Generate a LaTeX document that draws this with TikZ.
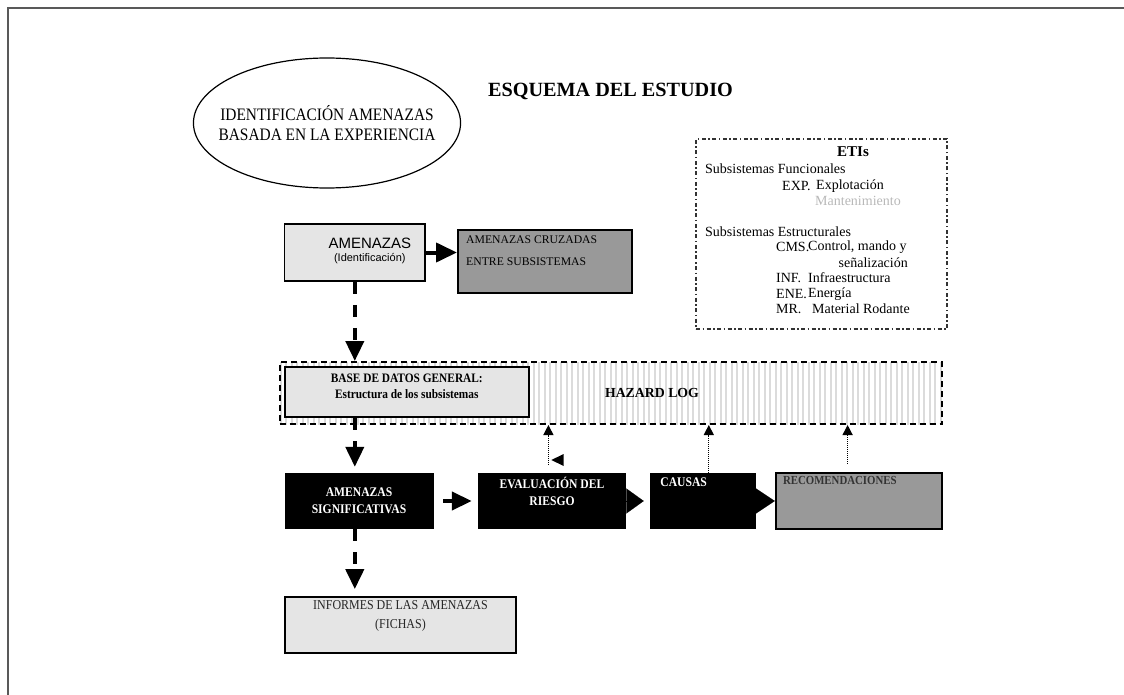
\documentclass[tikz,border=0pt]{standalone}
\usepackage{fontspec}
\setmainfont{Liberation Serif}
\newfontfamily\condfont{Liberation Serif}[FakeStretch=0.88]
\newfontfamily\armfont{Liberation Sans}
\usetikzlibrary{arrows.meta,patterns.meta,shapes.geometric}

\begin{document}
\begin{tikzpicture}[x=1pt,y=-1pt,
    caja/.style={draw,line width=1.8pt,fill=black!10},
    cajaosc/.style={draw,line width=2pt,fill=black!40},
    cajanegra/.style={fill=black,text=white},
    flecha/.style={line width=4pt,-{Triangle[length=20pt,width=18pt]}},
    discont/.style={dash pattern=on 12pt off 11pt},
    punteada/.style={line width=1.2pt,dash pattern=on 1pt off 1pt,-{Triangle[length=10pt,width=10pt]}},
    etitxt/.style={anchor=west,inner sep=0pt,font=\fontsize{14}{15}\selectfont},
    negtxt/.style={font=\condfont\bfseries\fontsize{13.2}{17}\selectfont}]
  \useasboundingbox (0,0) rectangle (1124,695);
  \draw[line width=2pt,black!65] (8,700) -- (8,8) -- (1130,8);

  % cabecera
  \node[draw,ellipse,line width=1.2pt,minimum width=263pt,minimum height=130pt,inner xsep=-14pt,align=center,
        font=\condfont\fontsize{17.5}{20}\selectfont] (ident) at (327,123)
        {IDENTIFICACIÓN AMENAZAS\\BASADA EN LA EXPERIENCIA};
  \node[font=\bfseries\fontsize{20.2}{24}\selectfont] (titulo) at (610.5,91) {ESQUEMA DEL ESTUDIO};

  % amenazas
  \node[caja,minimum width=140.5pt,minimum height=57pt,
        label={[align=center,inner sep=0pt,xshift=15pt,yshift=2pt]center:{\armfont\fontsize{15}{15}\selectfont AMENAZAS\\[1pt]\armfont\fontsize{11}{11}\selectfont (Identificación)}}] (amen) at (354.8,252.5) {};
  \node[cajaosc,minimum width=174pt,minimum height=63pt,
        label={[anchor=north west,align=left,inner sep=0pt,xshift=9pt,yshift=-7pt,font=\fontsize{11.7}{22}\selectfont]north west:{AMENAZAS CRUZADAS\\ENTRE SUBSISTEMAS}}] (cruz) at (545,261.5) {};
  \draw[line width=4pt,-{Triangle[length=21pt,width=19pt]}] (amen.east) -- (amen.east -| cruz.west);

  % ETIs
  \node[draw,black!80,line width=1.4pt,dash pattern=on 4pt off 2.5pt on 1.5pt off 2.5pt,
        minimum width=251pt,minimum height=190pt] (etis) at (821.5,234) {};
  \node[font=\bfseries\fontsize{15}{16}\selectfont] (etitit) at (853,152) {ETIs};
  \node[etitxt] (func) at (705,169) {Subsistemas Funcionales};
  \node[etitxt] (exp) at (782,186) {EXP.};
  \node[etitxt] (expl) at (816,186) {Explotación};
  \node[etitxt,text=black!28] (mant) at (815,201) {Mantenimiento};
  \node[etitxt] (estr) at (705,232) {Subsistemas Estructurales};
  \node[etitxt] (cms) at (776,247) {CMS.};
  \node[etitxt] (ctrl) at (808,247) {Control, mando y};
  \node[etitxt,anchor=east] (senal) at (908,263) {señalización};
  \node[etitxt] (inf) at (776,278) {INF.};
  \node[etitxt] (infr) at (808,278) {Infraestructura};
  \node[etitxt] (ene) at (776,294) {ENE.};
  \node[etitxt] (ener) at (808,294) {Energía};
  \node[etitxt] (mr) at (776,309) {MR.};
  \node[etitxt] (mat) at (812,309) {Material Rodante};

  % hazard log
  \node[draw,line width=2pt,dash pattern=on 6pt off 4pt,
        pattern={Lines[angle=90,distance=5.5pt,line width=2pt]},pattern color=black!14,
        minimum width=662.5pt,minimum height=62pt] (hazard) at (610.75,393) {};
  \node[caja,line width=2.2pt,minimum width=244pt,minimum height=50pt,
        label={[anchor=north,align=center,inner sep=0pt,yshift=-8pt,font=\condfont\bfseries\fontsize{12.9}{16}\selectfont]north:{BASE DE DATOS GENERAL:\\Estructura de los subsistemas}}] (base) at (406.8,392) {};
  \node[font=\bfseries\fontsize{13.8}{15}\selectfont] (hlog) at ([xshift=41.25pt]hazard.center) {HAZARD LOG};
  \draw[flecha,discont] (amen.south) -- (amen.south |- hazard.north);

  % fila inferior
  \node[cajanegra,minimum width=149pt,minimum height=56pt,align=center,negtxt] (sig) at (359,501) {AMENAZAS\\SIGNIFICATIVAS};
  \node[cajanegra,minimum width=148pt,minimum height=56pt,
        label={[anchor=north,align=center,inner sep=0pt,yshift=-4pt,text=white,negtxt]north:{EVALUACIÓN DEL\\RIESGO}}] (eval) at (552,501) {};
  \node[cajanegra,minimum width=106pt,minimum height=56pt,
        label={[anchor=north west,inner sep=0pt,xshift=10pt,yshift=-5pt,text=white,negtxt]north west:CAUSAS}] (causas) at (703.4,501) {};
  \node[cajaosc,line width=2.4pt,minimum width=166pt,minimum height=56pt,
        label={[anchor=north west,inner sep=0pt,xshift=8pt,yshift=-4pt,text=black!80,font=\condfont\bfseries\fontsize{12.3}{13}\selectfont]north west:RECOMENDACIONES}] (recom) at (859,501) {};
  \node[caja,minimum width=231pt,minimum height=56pt,
        label={[anchor=north,align=center,inner sep=0pt,yshift=-4pt,text=black!85,font=\condfont\fontsize{13.6}{19}\selectfont]north:{INFORMES DE LAS AMENAZAS\\(FICHAS)}}] (informes) at (400.5,625) {};

  \draw[flecha,discont,shorten >=6pt] (base.south -| amen.south) -- (amen.south |- sig.north);
  \draw[flecha,discont,shorten >=7pt] (amen.south |- sig.south) -- (amen.south |- informes.north);
  \draw[line width=4pt,-{Triangle[length=20pt,width=18pt]},shorten <=9.5pt,shorten >=6pt] (sig.east) -- (eval.west);
  \draw[line width=0.1pt,-{Triangle[length=17.4pt,width=25pt]},shorten >=6.5pt] (eval.east) -- (causas.west);
  \draw[line width=0.1pt,-{Triangle[length=19.5pt,width=26pt]}] (causas.east) -- (recom.west);

  % al hazard log
  \draw[punteada] ([xshift=-3.6pt,yshift=8pt]eval.north) -- ([xshift=-3.6pt]eval.north |- hazard.south);
  \fill (563.6,454) -- (551.4,460) -- (563.6,466) -- cycle;
  \draw[punteada] ([xshift=5.4pt]causas.north) -- ([xshift=5.4pt]causas.north |- hazard.south);
  \draw[punteada] ([xshift=-11.4pt,yshift=8pt]recom.north) -- ([xshift=-11.4pt]recom.north |- hazard.south);
\end{tikzpicture}
\end{document}
